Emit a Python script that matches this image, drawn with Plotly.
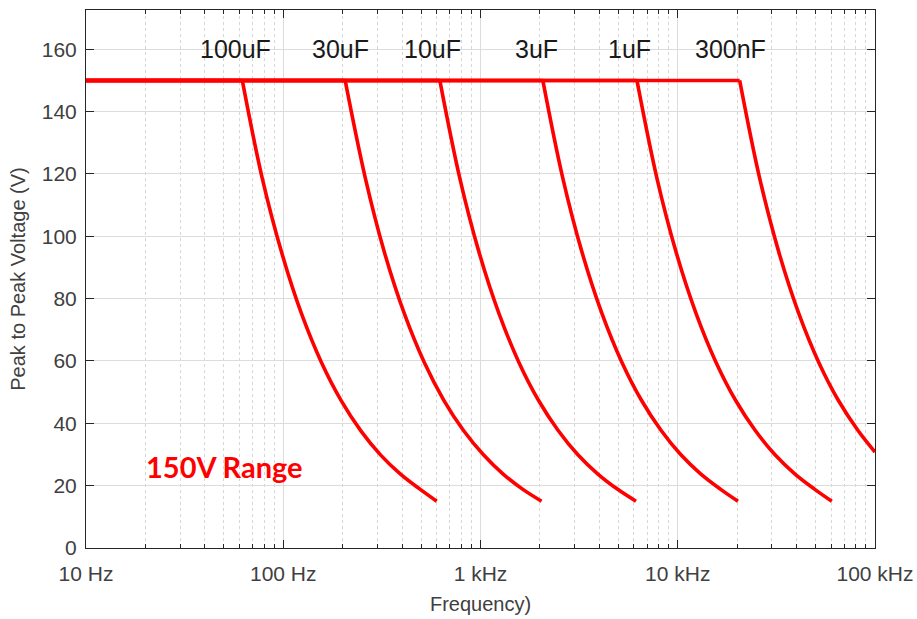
import math
import plotly.graph_objects as go

# ---- data ----
cap_labels = ["100uF", "30uF", "10uF", "3uF", "1uF", "300nF"]

f_100u = [10, 62, 78, 99, 124, 156, 197, 248, 312, 393, 495, 600]
v_100u = [150, 150, 119, 94, 75, 59.6, 47.2, 37.5, 29.8, 23.7, 18.8, 15.0]

f_30u = [10, 206, 260, 327, 412, 519, 653, 822, 1035, 1303, 1640, 2040]
v_30u = [150, 150, 119, 94.5, 75, 59.5, 47.3, 37.6, 29.9, 23.7, 18.8, 15.0]

f_10u = [10, 622, 783, 986, 1241, 1562, 1967, 2476, 3117, 3924, 4940, 6140]
v_10u = [150, 150, 119, 94.6, 75.2, 59.7, 47.4, 37.7, 29.9, 23.8, 18.9, 15.0]

f_3u = [10, 2070, 2606, 3281, 4130, 5200, 6546, 8241, 10375, 13061, 16443, 20200]
v_3u = [150, 150, 119, 94.6, 75.2, 59.7, 47.4, 37.7, 29.9, 23.8, 18.9, 15.0]

f_1u = [10, 6210, 7818, 9842, 12391, 15599, 19638, 24723, 31124, 39183, 49328, 60400]
v_1u = [150, 150, 119, 94.6, 75.2, 59.7, 47.4, 37.7, 29.9, 23.8, 18.9, 15.0]

f_300n = [10, 20600, 25934, 32649, 41102, 51744, 65142, 82008, 100000]
v_300n = [150, 150, 119, 94.6, 75.2, 59.7, 47.4, 37.7, 30.8]

label_freqs = [57.5, 196, 568, 1932, 5715, 18600]
label_volt = 160

range_text = "150V Range"
range_text_f = 50.4
range_text_v = 26

x_tick_vals = [10, 100, 1000, 10000, 100000]
x_tick_text = ["10 Hz", "100 Hz", "1 kHz", "10 kHz", "100 kHz"]
x_minor_vals = [m * d for d in [10, 100, 1000, 10000] for m in range(2, 10)]
y_tick_vals = [0, 20, 40, 60, 80, 100, 120, 140, 160]

curves = [(f_100u, v_100u), (f_30u, v_30u), (f_10u, v_10u),
          (f_3u, v_3u), (f_1u, v_1u), (f_300n, v_300n)]

RED = "#ff0000"
LW = 3.6

fig = go.Figure()
for (fx, vy), name in zip(curves, cap_labels):
    # flat (voltage-limited) part
    fig.add_trace(go.Scatter(
        x=fx[:2], y=vy[:2], mode="lines", name=name,
        line=dict(color=RED, width=LW),
        showlegend=False, hoverinfo="skip"))
    # current-limited roll-off
    fig.add_trace(go.Scatter(
        x=fx[1:], y=vy[1:], mode="lines", name=name,
        line=dict(color=RED, width=LW, shape="spline", smoothing=1.0),
        showlegend=False, hoverinfo="skip"))

for lab, fx in zip(cap_labels, label_freqs):
    fig.add_annotation(x=math.log10(fx), y=label_volt, xref="x", yref="y",
                       text=lab, showarrow=False,
                       font=dict(family="Liberation Sans, Arial", size=25, color="#1a1a1a"),
                       xanchor="center", yanchor="middle")

fig.add_annotation(x=math.log10(range_text_f), y=range_text_v, xref="x", yref="y",
                   text="<b>" + range_text + "</b>", showarrow=False,
                   font=dict(family="Lato, Noto Sans", size=29, color=RED),
                   xanchor="center", yanchor="middle")

axis_color = "#262626"
text_color = "#404040"
fnt = "Liberation Sans, Arial"
fig.update_xaxes(
    type="log", range=[1, 5], automargin=False,
    tickmode="array", tickvals=x_tick_vals, ticktext=x_tick_text,
    ticks="inside", ticklen=8, tickcolor=axis_color, tickwidth=1,
    ticklabelstandoff=7,
    showline=True, linecolor=axis_color, linewidth=1, mirror="ticks",
    showgrid=True, gridcolor="#dcdcdc", gridwidth=1,
    minor=dict(tickmode="array", tickvals=x_minor_vals, ticks="inside",
               ticklen=4, tickcolor=axis_color, showgrid=True,
               gridcolor="#d6d6d6", griddash="dot", gridwidth=1),
    tickfont=dict(family=fnt, size=21, color=text_color),
    title=dict(text="Frequency)", standoff=12,
               font=dict(family=fnt, size=20, color=text_color)),
    zeroline=False,
)
fig.update_yaxes(
    range=[0, 172.6], automargin=False,
    tickmode="array", tickvals=y_tick_vals,
    ticks="inside", ticklen=8, tickcolor=axis_color, tickwidth=1,
    ticklabelstandoff=4,
    showline=True, linecolor=axis_color, linewidth=1, mirror="ticks",
    showgrid=True, gridcolor="#dcdcdc", gridwidth=1,
    tickfont=dict(family=fnt, size=21, color=text_color),
    title=dict(text="Peak to Peak Voltage (V)", standoff=10,
               font=dict(family=fnt, size=20, color=text_color)),
    zeroline=False,
)

fig.update_layout(
    width=917, height=619,
    margin=dict(l=86, r=42, t=10, b=71),
    paper_bgcolor="white", plot_bgcolor="white",
)

fig.write_html("out.html", config={"displayModeBar": False},
               post_script="document.body.style.margin='0';document.body.style.padding='0';")
